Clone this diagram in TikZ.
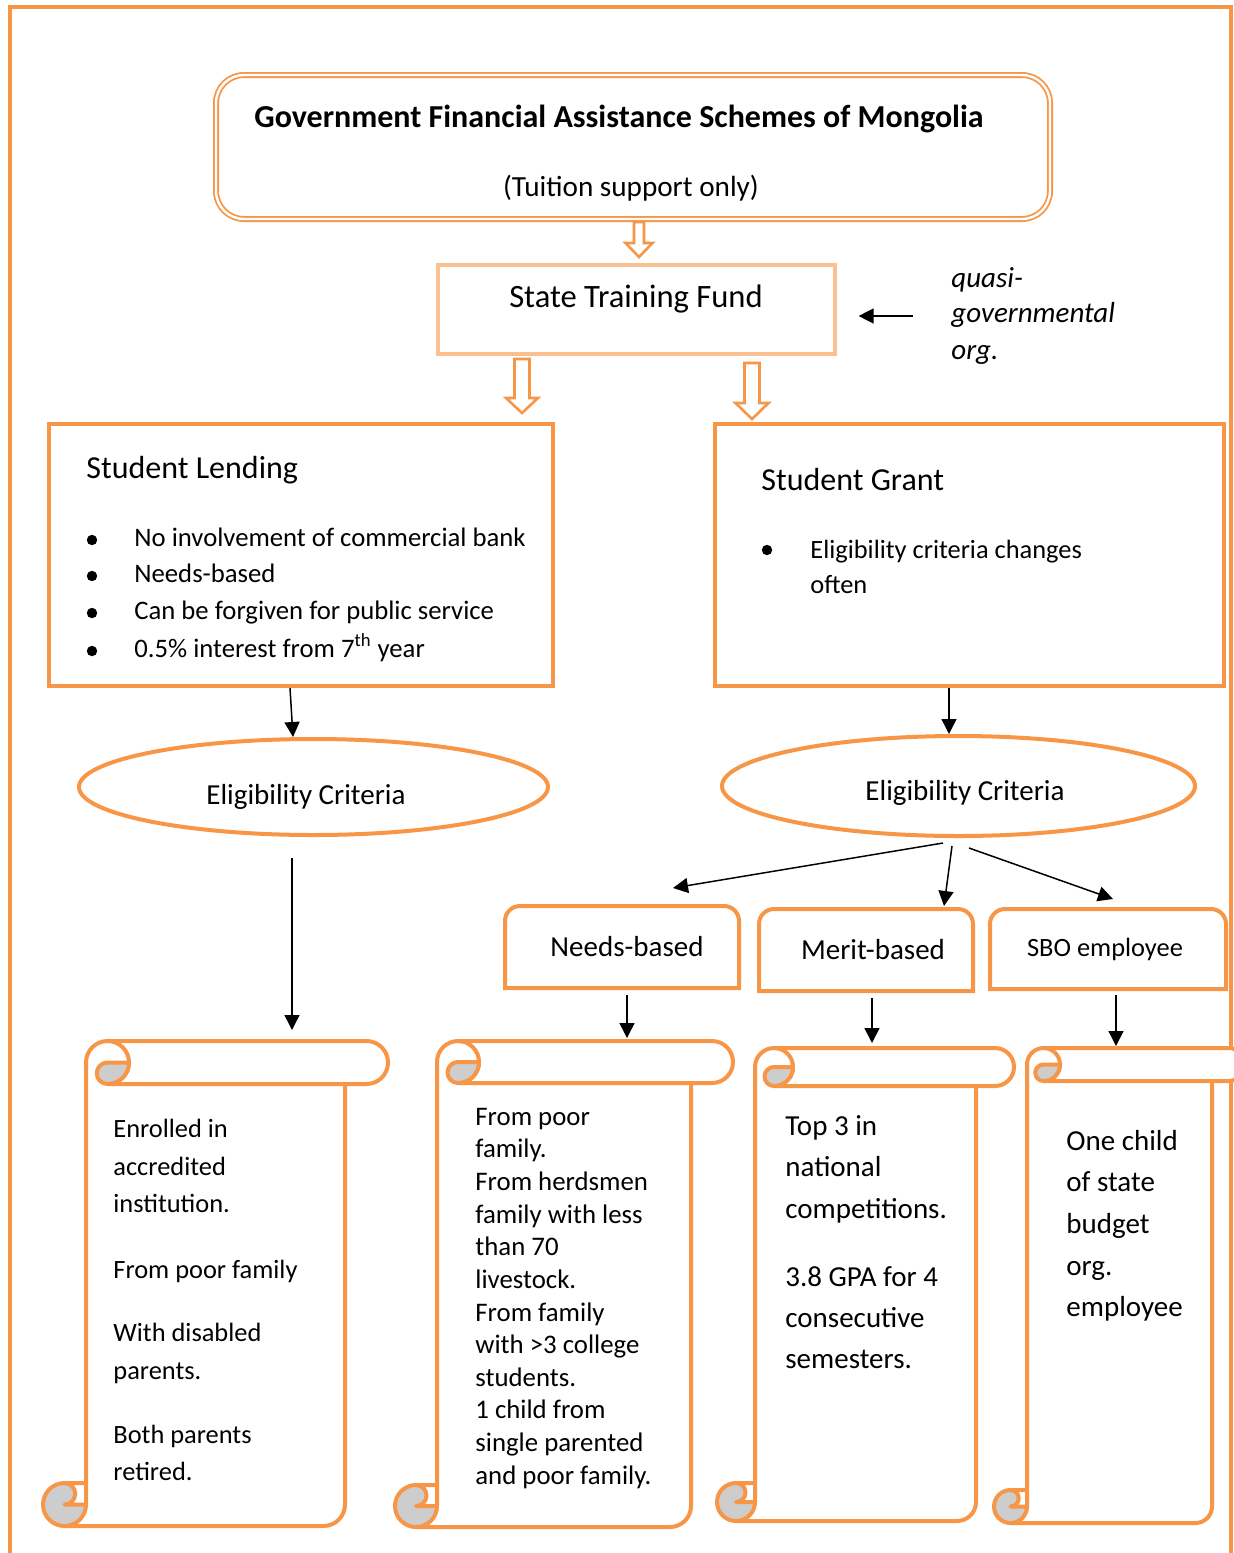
\documentclass[tikz,border=0pt]{standalone}
\usepackage{fontspec}
\setmainfont{Carlito}
\usetikzlibrary{arrows.meta,calc,shapes.geometric}
\definecolor{org}{HTML}{F79646}
\definecolor{lorg}{HTML}{FAC090}
\definecolor{curl}{HTML}{CDCDCD}
\tikzset{
 orgbox/.style={draw=org, line width=2pt, inner sep=0},
 arr/.style={-{Triangle[width=7.5pt,length=7.5pt]}, line width=0.75pt, black},
 harr/.style={draw=org, fill=white, line width=1.3pt, line join=miter},
 scrl/.style={draw=org, line width=2pt, line join=round},
 lt/.style={inner sep=0, anchor=west, text height=0.7em, text depth=0.2em},
 ct/.style={inner sep=0, anchor=center, text height=0.7em, text depth=0.2em},
 bdot/.style={circle, fill=black, inner sep=0, minimum size=5.2pt},
 ell/.style={ellipse, draw=org, line width=2pt, inner sep=0},
}
\newcommand\vscroll[5]{%
  \pgfmathsetmacro\Sl{#1}\pgfmathsetmacro\St{#2}\pgfmathsetmacro\Sr{#3}\pgfmathsetmacro\Sb{#4}%
  \pgfmathsetmacro\Sch{#5}\pgfmathsetmacro\Schh{#5/2}%
  \pgfmathsetmacro\SxL{#1+#5}\pgfmathsetmacro\Sxc{#1+1.5*#5}\pgfmathsetmacro\Sxr{#3-#5}\pgfmathsetmacro\Sxrr{#3-#5/2}%
  \pgfmathsetmacro\Sra{#5/4}\pgfmathsetmacro\Srb{#5/8}%
  \fill[white] (\SxL,\St) rectangle (\Sxr,\Sb);
  \fill[white] (\SxL,\St) rectangle (\Sxrr,\St+\Sch);
  \fill[white] (\Sxrr,\St+\Schh) circle[radius=\Sra pt];
  \draw[scrl] (\SxL,\Sb-\Sch) -- (\SxL,\St+\Schh) arc[start angle=180,end angle=90,radius=\Sra pt] -- (\Sxrr,\St) arc[start angle=90,end angle=-90,radius=\Sra pt] -- (\Sxc,\St+\Sch);
  \draw[scrl] (\Sxc,\St) arc[start angle=90,end angle=-90,radius=\Sra pt];
  \draw[scrl] (\Sxr,\St+\Sch) -- (\Sxr,\Sb-\Schh) arc[start angle=0,end angle=-90,radius=\Sra pt] -- (\Sl+\Schh,\Sb);
  \filldraw[scrl,fill=curl] (\Sl+\Schh,\Sb-\Schh) circle[radius=\Sra pt];
  \filldraw[scrl,fill=white] (\SxL,\Sb-\Sch) -- (\Sl+\Schh,\Sb-\Sch) arc[start angle=90,end angle=-90,radius=\Srb pt] -- (\SxL,\Sb-\Schh) -- cycle;
  \filldraw[scrl,fill=curl] (\Sxc,\St+\Schh) -- (\Sxc+\Schh,\St+\Schh) arc[start angle=0,end angle=-90,radius=\Sra pt] arc[start angle=-90,end angle=-270,radius=\Srb pt] -- cycle;
}
\newcommand\toproundbox[1]{%
  \draw[draw=org, line width=2pt] (#1.south west) -- ([yshift=-7.5pt]#1.north west) arc[start angle=180,end angle=90,radius=7.5pt] -- ([xshift=-7.5pt]#1.north east) arc[start angle=90,end angle=0,radius=7.5pt] -- (#1.south east) -- cycle;
}
\begin{document}
\begin{tikzpicture}[x=0.5pt,y=-0.5pt]
\useasboundingbox (0,0) rectangle (1234,1553);
\draw[draw=org,line width=2pt] (10,1560) -- (10,7) -- (1231,7) -- (1231,1560);

% top box
\node[draw=org, double=white, double distance=1.2pt, line width=0.9pt, rounded corners=14pt, minimum width=417pt, minimum height=72pt, inner sep=0] (top) at (633,147) {};
\node[ct, font=\fontsize{16}{19}\selectfont\bfseries] (topt) at (619,122) {Government Financial Assistance Schemes of Mongolia};
\node[ct, font=\fontsize{14.6}{17}\selectfont] (tops) at (631,191) {(Tuition support only)};

% hollow arrows
\draw[harr] (634,222) -- (634,243) -- (625.5,243) -- (639,257) -- (652.5,243) -- (644,243) -- (644,222) -- cycle;
\draw[harr] (514.5,359) -- (514.5,398) -- (506,398) -- (522,413) -- (538,398) -- (529.5,398) -- (529.5,359) -- cycle;
\draw[harr] (744.5,363) -- (744.5,403) -- (735.5,403) -- (752,419) -- (768.5,403) -- (759.5,403) -- (759.5,363) -- cycle;

% state training fund
\node[draw=lorg, line width=1.6pt, minimum width=198.5pt, minimum height=44.5pt, inner sep=0] (stf) at (636.5,309.5) {};
\node[ct, font=\fontsize{16.3}{19}\selectfont] (stft) at (636,302) {State Training Fund};
\node[lt, font=\fontsize{14.5}{17}\selectfont\itshape] (q1) at (951,282) {quasi-};
\node[lt, font=\fontsize{14.5}{17}\selectfont\itshape] (q2) at (951,317) {governmental};
\node[lt, font=\fontsize{14.5}{17}\selectfont\itshape] (q3) at (951,354) {org.};
\coordinate (qa) at (913,316);
\draw[arr] (qa) -- ([xshift=11pt,yshift=-3.25pt]stf.east);

% student lending
\node[orgbox, minimum width=252pt, minimum height=131pt] (lend) at (301,555) {};
\node[lt, font=\fontsize{16}{19}\selectfont] (lendt) at (86,473) {Student Lending};
\foreach \y/\t [count=\i] in {541/No involvement of commercial bank, 577/Needs-based, 614/Can be forgiven for public service, 652/0.5\% interest from 7\textsuperscript{th} year}{
  \node[bdot] (lb\i) at (92,\y-1) {};
  \node[lt, font=\fontsize{13.35}{16}\selectfont] (lt\i) at (134,\y) {\t};
}

% student grant
\node[orgbox, minimum width=254.5pt, minimum height=131pt] (grant) at (969.5,555) {};
\node[lt, font=\fontsize{16}{19}\selectfont] (grantt) at (761,485) {Student Grant};
\node[bdot] (gb1) at (767,550) {};
\node[lt, font=\fontsize{13.2}{16}\selectfont] (gt1) at (810,553) {Eligibility criteria changes};
\node[lt, font=\fontsize{13.2}{16}\selectfont] (gt2) at (810,588) {often};

% ellipses
\node[ell, minimum width=234.5pt, minimum height=48pt] (elL) at (313.5,787) {};
\node[ct, font=\fontsize{14.5}{17}\selectfont] (elLt) at (306,799) {Eligibility Criteria};
\node[ell, minimum width=236.5pt, minimum height=50pt] (elR) at (958.5,786) {};
\node[ct, font=\fontsize{14.5}{17}\selectfont] (elRt) at (965,795) {Eligibility Criteria};

\draw[arr] ([xshift=-5.5pt]lend.south) -- ([xshift=-10.25pt]elL.north);
\draw[arr] ([xshift=-10.25pt]grant.south) -- ([xshift=-4.75pt]elR.north);

% category boxes
\node[minimum width=117pt, minimum height=41pt, inner sep=0, outer sep=0] (nb) at (622,947) {};
\node[minimum width=107pt, minimum height=41pt, inner sep=0, outer sep=0] (mb) at (866,950) {};
\node[minimum width=118pt, minimum height=40pt, inner sep=0, outer sep=0] (sb) at (1108,949) {};
\toproundbox{nb}
\toproundbox{mb}
\toproundbox{sb}
\node[ct, font=\fontsize{14.5}{17}\selectfont] (nbt) at (627,951) {Needs-based};
\node[ct, font=\fontsize{14.5}{17}\selectfont] (mbt) at (873,954) {Merit-based};
\node[ct, font=\fontsize{13.2}{15}\selectfont] (sbt) at (1105,951) {SBO employee};

\draw[arr] ([xshift=-7.75pt,yshift=-2.5pt]elR.south) -- ([xshift=25.5pt,yshift=9pt]nb.north);
\draw[arr] ([xshift=-3.25pt,yshift=-4pt]elR.south) -- ([xshift=39pt,yshift=1.5pt]mb.north);
\draw[arr] ([xshift=5.25pt,yshift=-5pt]elR.south) -- ([xshift=2.5pt,yshift=5pt]sb.north);

% scrolls
\vscroll{43}{1041}{388}{1526}{43}
\vscroll{395}{1041}{733}{1527}{42}
\vscroll{717}{1048}{1014}{1521}{38}
\vscroll{994}{1048}{1245}{1523}{33}

\coordinate (e1) at (292,1030);
\coordinate (e2) at (627,1038);
\coordinate (e3) at (872,1043);
\coordinate (e4) at (1116,1046);
\draw[arr] ([xshift=-10.75pt,yshift=-10.5pt]elL.south) -- (e1);
\draw[arr] ([xshift=2.5pt,yshift=-3.5pt]nb.south) -- (e2);
\draw[arr] ([xshift=3pt,yshift=-3.5pt]mb.south) -- (e3);
\draw[arr] ([xshift=4pt,yshift=-3pt]sb.south) -- (e4);

\foreach \y/\t in {1132/Enrolled in, 1170/accredited, 1207/institution., 1273/From poor family, 1336/With disabled, 1374/parents., 1438/Both parents, 1475/retired.}
  \node[lt, font=\fontsize{13.2}{16}\selectfont] (sa\y) at (113,\y) {\t};
\foreach \y/\t in {1120/From poor, 1152/family., 1185/From herdsmen, 1218/family with less, 1250/than 70, 1283/livestock., 1316/From family, 1348/with >3 college, 1381/students., 1413/1 child from, 1446/single parented, 1479/and poor family.}
  \node[lt, font=\fontsize{13.4}{15}\selectfont] (sb\y) at (475,\y) {\t};
\foreach \y/\t in {1130/Top 3 in, 1171/national, 1213/competitions., 1281/3.8 GPA for 4, 1322/consecutive, 1363/semesters.}
  \node[lt, font=\fontsize{14.5}{17}\selectfont] (sc\y) at (785,\y) {\t};
\foreach \y/\t in {1145/One child, 1186/of state, 1228/budget, 1270/org., 1311/employee}
  \node[lt, font=\fontsize{14.5}{17}\selectfont] (sd\y) at (1066,\y) {\t};
\end{tikzpicture}
\end{document}
